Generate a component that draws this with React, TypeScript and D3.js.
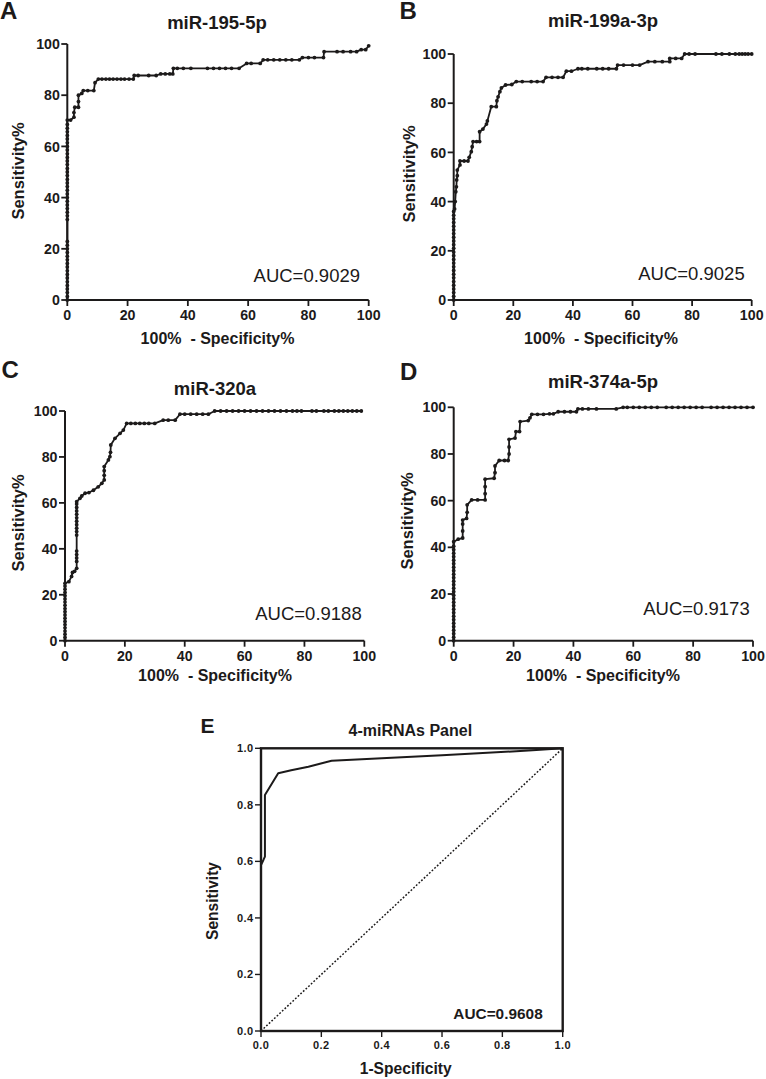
import React from "react";
import * as d3 from "d3";

type Pt = [number, number];

// Panel A: miR-195-5p  [100% - specificity%, sensitivity%]
const rocA: Pt[] = [
  [0, 0], [0, 1.4], [0, 2.9], [0, 4.3], [0, 5.7], [0, 7.1], [0, 8.6], [0, 10], [0, 11.4], [0, 12.9], [0, 14.3], [0, 15.7], [0, 17.1], [0, 18.6], [0, 20], [0, 21.4], [0, 22.9],
  [0, 31.4], [0, 32.9], [0, 34.3], [0, 35.7], [0, 37.1], [0, 38.6], [0, 40], [0, 41.4], [0, 42.9], [0, 44.3], [0, 45.7], [0, 47.1], [0, 48.6], [0, 50], [0, 51.4], [0, 52.9], [0, 54.3], [0, 55.7], [0, 57.1], [0, 58.6], [0, 60], [0, 61.4], [0, 62.9], [0, 64.3], [0, 65.7], [0, 67.1], [0, 68.6], [0, 70.3],
  [1.1, 70.3], [2.2, 71.4], [2.2, 73.2], [2.5, 75.3], [3.7, 75.3], [3.7, 77.5], [3.7, 80], [4.8, 80.7], [5.3, 81.8], [6.8, 81.8], [8.8, 81.8], [9.2, 84.9], [10.3, 86.3],
  [11.5, 86.3], [12.8, 86.3], [14, 86.3], [15.2, 86.3], [16.5, 86.3], [17.8, 86.3], [19, 86.3], [20.5, 86.3], [21.9, 86.3], [22.2, 87.7], [23.5, 87.7], [27, 87.7], [29.5, 87.7], [31, 88.3], [32.5, 88.3], [34, 88.3], [35, 88.3],
  [35.2, 90.5], [36.5, 90.5], [38.5, 90.5], [41, 90.5], [46.5, 90.5], [48.5, 90.5], [50.5, 90.5], [52.5, 90.5], [54.5, 90.5], [57, 90.5],
  [59.5, 92.4], [61, 92.4], [64, 92.4], [65, 93.8], [66.5, 93.8], [68.5, 93.8], [70.5, 93.8], [72.5, 93.8], [74.5, 93.8], [77, 93.8],
  [78, 94.7], [80, 94.7], [82, 94.7], [85, 94.7], [85.2, 97], [89.5, 97], [91.5, 97], [94, 97], [96, 97], [97.5, 97.8], [99, 97.8], [100, 99.3],
];

// Panel B: miR-199a-3p
const rocB: Pt[] = [
  [0, 0], [0, 1.5], [0, 3], [0, 4.5], [0, 6], [0, 7.5], [0, 9], [0, 10.5], [0, 12], [0, 13.5], [0, 15], [0, 16.5], [0, 18], [0, 19.5], [0, 21], [0, 22.5], [0, 24], [0, 25.5], [0, 27], [0, 28.5], [0, 30], [0, 31.5], [0, 33], [0, 34.5], [0, 36],
  [0.3, 37], [0.5, 40], [0.7, 44], [0.9, 46], [1, 48.8], [1.2, 50.5], [1.2, 52.8], [2.1, 54.9], [2.1, 56.5], [3.5, 56.5], [4.8, 56.5], [5.2, 58], [5.9, 60.3], [6.2, 62.3], [6.5, 64.4],
  [7.7, 64.4], [8.7, 64.4], [8.7, 68.4], [9.8, 69.5], [11, 71.5], [11.3, 72.8], [12.6, 78.6], [14.3, 78.6], [14.5, 81], [14.9, 82.6], [15.5, 84.7], [16, 86.2], [17.4, 87.4], [19.5, 87.6],
  [21, 88.8], [23, 88.8], [26, 88.8], [28, 88.8], [30, 88.8], [31, 90.5], [33, 90.5], [35, 90.5], [36.7, 90.5], [37.8, 93], [39.5, 93], [41.7, 94], [43, 94], [45, 94], [48, 94], [50, 94], [52, 94], [54.6, 94],
  [55, 95.5], [57, 95.5], [60, 95.5], [62.4, 95.5], [65.2, 96.9], [67.5, 96.9], [70, 96.9], [72.5, 96.9], [72.5, 98.2], [74.5, 98.2], [76.5, 98.2],
  [77.5, 100], [79, 100], [81, 100], [88, 100], [90, 100], [92.5, 100], [94.5, 100], [95.8, 100], [96.8, 100], [97.8, 100], [98.8, 100], [100, 100],
];

// Panel C: miR-320a
const rocC: Pt[] = [
  [0, 0], [0, 1.4], [0, 2.8], [0, 4.2], [0, 5.6], [0, 7], [0, 8.4], [0, 9.8], [0, 11.2], [0, 12.6], [0, 14], [0, 15.4], [0, 16.8], [0, 18.2], [0, 19.6], [0, 21], [0, 22.4], [0, 23.8], [0, 25],
  [1.3, 25.7], [2.2, 28], [2.5, 29.7], [3.2, 30.2], [3.9, 31.5], [3.9, 34.5], [3.9, 36], [3.9, 37.5], [3.9, 39], [3.9, 46], [3.9, 47.5], [3.9, 49], [3.9, 50.5], [3.9, 52], [3.9, 53.5], [3.9, 55], [3.9, 56.5], [3.9, 58], [3.9, 59.5], [3.9, 60.5],
  [5, 62], [5.6, 63], [6.7, 64.2], [8, 64.5], [9.5, 65.5], [11.1, 67], [12.3, 68.5], [13.1, 70], [13.1, 72], [13.1, 74], [13.1, 75.8], [14.5, 78.7], [15, 80.1], [15.2, 82], [15.3, 85.2], [16.7, 88.1], [18.4, 90.3], [19.5, 91.7], [20.6, 94.6],
  [22, 94.6], [23.5, 94.6], [25, 94.6], [26.5, 94.6], [28, 94.6], [30, 94.6], [32.8, 96], [34.5, 96], [36.8, 96], [38.4, 98.6], [40, 98.6], [42, 98.6], [44, 98.6], [46, 98.6], [47.9, 98.6],
  [50, 100], [52, 100], [54, 100], [56, 100], [58, 100], [60, 100], [62, 100], [64, 100], [66, 100], [68, 100], [70, 100], [72, 100], [74, 100], [76, 100], [77.5, 100], [79, 100],
  [82.5, 100], [84, 100], [86.5, 100], [88, 100], [90, 100], [91.5, 100], [93, 100], [94.5, 100], [96, 100], [97.5, 100], [99, 100],
];

// Panel D: miR-374a-5p
const rocD: Pt[] = [
  [0, 0], [0, 1.5], [0, 3], [0, 4.5], [0, 6], [0, 7.5], [0, 9], [0, 10.5], [0, 12], [0, 13.5], [0, 15], [0, 16.5], [0, 18], [0, 19.5], [0, 21], [0, 22.5], [0, 24], [0, 25.5], [0, 27], [0, 28.5], [0, 30], [0, 31.5], [0, 33], [0, 34.5], [0, 36], [0, 37.5], [0, 39], [0, 40.5], [0, 42.4],
  [1.5, 43.5], [3, 44], [3, 47], [3, 50], [3, 51.7], [4.3, 52.4], [4.5, 55], [4.5, 58.2], [6, 60.3], [8, 60.3], [10.5, 60.3], [10.5, 63], [10.5, 66], [10.5, 69.2],
  [13.5, 69.6], [13.8, 72], [13.8, 74.9], [15.2, 77.2], [17, 77.2], [18.2, 77.2], [18.5, 80], [18.5, 83], [18.5, 86.3], [20.5, 86.8], [20.8, 89.6], [22, 89.6], [22.2, 93.9],
  [24.9, 94.3], [25.5, 95.5], [26.1, 97], [28, 97], [30, 97], [32, 97.2], [33.3, 97.2], [34.9, 98.1], [37, 98.1], [39, 98.1], [41, 98.1], [41.5, 99.3], [43, 99.3], [45, 99.3], [47.7, 99.3], [54.3, 99.3],
  [56.6, 100], [58, 100], [60, 100], [62, 100], [64, 100], [66, 100], [68, 100], [71, 100], [73, 100], [75, 100], [77, 100], [79, 100], [81, 100], [83, 100], [86, 100], [88, 100], [90, 100], [92, 100], [94, 100], [96, 100], [98, 100], [100, 100],
];

// Panel E: 4-miRNAs combined panel [1-specificity, sensitivity]
const rocE: Pt[] = [
  [0, 0], [0, 0.587], [0.008, 0.605], [0.013, 0.617], [0.013, 0.835], [0.057, 0.912], [0.1, 0.922], [0.157, 0.935], [0.234, 0.956], [0.6, 0.975], [0.9, 0.993], [1, 1],
];

const pctTicks = [0, 20, 40, 60, 80, 100];
const fracTicks = [0, 0.2, 0.4, 0.6, 0.8, 1.0];

const FONT = "'Liberation Sans', Arial, Helvetica, sans-serif";
const INK = "#1c1a1a";

type PanelCfg = {
  letter: string; letterX: number; letterY: number;
  title: string; titleX: number; titleY: number;
  x0: number; x1: number; y0: number; y1: number;
  ylabelX: number; ylabelY: number;
  xlabelX: number; xlabelY: number;
  tickY: number;
  auc: string; aucX: number; aucY: number;
  data: Pt[];
};

const panels: PanelCfg[] = [
  { letter: "A", letterX: 0, letterY: 18.5, title: "miR-195-5p", titleX: 217, titleY: 29, x0: 67.3, x1: 368.7, y0: 300, y1: 44, ylabelX: 24, ylabelY: 171, xlabelX: 217.5, xlabelY: 344, tickY: 320, auc: "AUC=0.9029", aucX: 360, aucY: 282, data: rocA },
  { letter: "B", letterX: 399.5, letterY: 18.5, title: "miR-199a-3p", titleX: 603, titleY: 27, x0: 453.7, x1: 751.7, y0: 300, y1: 54, ylabelX: 415, ylabelY: 174, xlabelX: 601, xlabelY: 344, tickY: 320, auc: "AUC=0.9025", aucX: 744.7, aucY: 280, data: rocB },
  { letter: "C", letterX: 1.5, letterY: 378, title: "miR-320a", titleX: 215, titleY: 395, x0: 65, x1: 364.3, y0: 640.7, y1: 411, ylabelX: 24, ylabelY: 523, xlabelX: 215, xlabelY: 681, tickY: 660.7, auc: "AUC=0.9188", aucX: 361.7, aucY: 620, data: rocC },
  { letter: "D", letterX: 400, letterY: 380, title: "miR-374a-5p", titleX: 603, titleY: 388, x0: 453.7, x1: 753, y0: 640.7, y1: 407.3, ylabelX: 413, ylabelY: 521, xlabelX: 603, xlabelY: 681, tickY: 660.7, auc: "AUC=0.9173", aucX: 749.7, aucY: 615, data: rocD },
];

function PrismPanel({ c }: { c: PanelCfg }) {
  const x = d3.scaleLinear().domain([0, 100]).range([c.x0, c.x1]);
  const y = d3.scaleLinear().domain([0, 100]).range([c.y0, c.y1]);
  const line = d3.line<Pt>().x((d) => x(d[0])).y((d) => y(d[1]));
  return (
    <g fontFamily={FONT} fill={INK}>
      <text x={c.letterX} y={c.letterY} fontSize={24} fontWeight="bold">{c.letter}</text>
      <text x={c.titleX} y={c.titleY} fontSize={18.5} fontWeight="bold" textAnchor="middle">{c.title}</text>
      <path d={line(c.data) || ""} fill="none" stroke={INK} strokeWidth={1.8} strokeLinejoin="round" />
      {c.data.map((d, i) => (
        <circle key={i} cx={x(d[0])} cy={y(d[1])} r={1.9} fill={INK} />
      ))}
      <line x1={c.x0} x2={c.x0} y1={c.y0 + 1} y2={c.y1} stroke={INK} strokeWidth={2} />
      <line x1={c.x0 - 1} x2={c.x1} y1={c.y0} y2={c.y0} stroke={INK} strokeWidth={2} />
      {pctTicks.map((t) => (
        <g key={"y" + t}>
          <line x1={c.x0 - 6} x2={c.x0} y1={y(t)} y2={y(t)} stroke={INK} strokeWidth={1.8} />
          <text x={c.x0 - 7.5} y={y(t)} dy="0.36em" fontSize={14.2} fontWeight="bold" textAnchor="end">{t}</text>
        </g>
      ))}
      {pctTicks.map((t) => (
        <g key={"x" + t}>
          <line x1={x(t)} x2={x(t)} y1={c.y0} y2={c.y0 + 6} stroke={INK} strokeWidth={1.8} />
          <text x={x(t)} y={c.tickY} fontSize={14.2} fontWeight="bold" textAnchor="middle">{t}</text>
        </g>
      ))}
      <text transform={`translate(${c.ylabelX},${c.ylabelY}) rotate(-90)`} fontSize={16.5} fontWeight="bold" textAnchor="middle">Sensitivity%</text>
      <text x={c.xlabelX} y={c.xlabelY} fontSize={16} fontWeight="bold" textAnchor="middle" style={{ whiteSpace: "pre" }}>{"100%  - Specificity%"}</text>
      <text x={c.aucX} y={c.aucY} fontSize={18.5} textAnchor="end">{c.auc}</text>
    </g>
  );
}

function PanelE() {
  const x0 = 261, x1 = 562.7, yb = 1031, yt = 748.3;
  const x = d3.scaleLinear().domain([0, 1]).range([x0, x1]);
  const y = d3.scaleLinear().domain([0, 1]).range([yb, yt]);
  const line = d3.line<Pt>().x((d) => x(d[0])).y((d) => y(d[1]));
  const fmt = d3.format(".1f");
  return (
    <g fontFamily={FONT} fill={INK}>
      <text x={200.5} y={733.3} fontSize={21} fontWeight="bold">E</text>
      <text x={410.3} y={736} fontSize={16} fontWeight="bold" textAnchor="middle">4-miRNAs Panel</text>
      <path d={line([[0, 0], [1, 1]]) || ""} fill="none" stroke={INK} strokeWidth={1.5} strokeDasharray="1.8,1.8" />
      <path d={line(rocE) || ""} fill="none" stroke={INK} strokeWidth={2} strokeLinejoin="round" />
      <rect x={x0} y={yt} width={x1 - x0} height={yb - yt} fill="none" stroke={INK} strokeWidth={2.4} />
      {fracTicks.map((t) => (
        <g key={"ey" + t}>
          <line x1={x0 - 6} x2={x0} y1={y(t)} y2={y(t)} stroke={INK} strokeWidth={1.4} />
          <text x={x0 - 7.5} y={y(t)} dy="0.36em" fontSize={11} letterSpacing={0.4} fontWeight="bold" textAnchor="end">{fmt(t)}</text>
        </g>
      ))}
      {fracTicks.map((t) => (
        <g key={"ex" + t}>
          <line x1={x(t)} x2={x(t)} y1={yb} y2={yb + 6} stroke={INK} strokeWidth={1.4} />
          <text x={x(t)} y={1048.5} fontSize={11} letterSpacing={0.4} fontWeight="bold" textAnchor="middle">{fmt(t)}</text>
        </g>
      ))}
      <text transform="translate(217.5,901) rotate(-90)" fontSize={15.6} fontWeight="bold" textAnchor="middle">Sensitivity</text>
      <text x={405.7} y={1073.5} fontSize={15.6} fontWeight="bold" textAnchor="middle">1-Specificity</text>
      <text x={542.7} y={1019.3} fontSize={15.4} fontWeight="bold" textAnchor="end">AUC=0.9608</text>
    </g>
  );
}

export default function App() {
  return (
    <svg width={766} height={1079} viewBox="0 0 766 1079" style={{ position: "absolute", left: 0, top: 0, background: "#fff" }}>
      <rect x={0} y={0} width={766} height={1079} fill="#fff" />
      {panels.map((c) => (
        <PrismPanel key={c.letter} c={c} />
      ))}
      <PanelE />
    </svg>
  );
}
